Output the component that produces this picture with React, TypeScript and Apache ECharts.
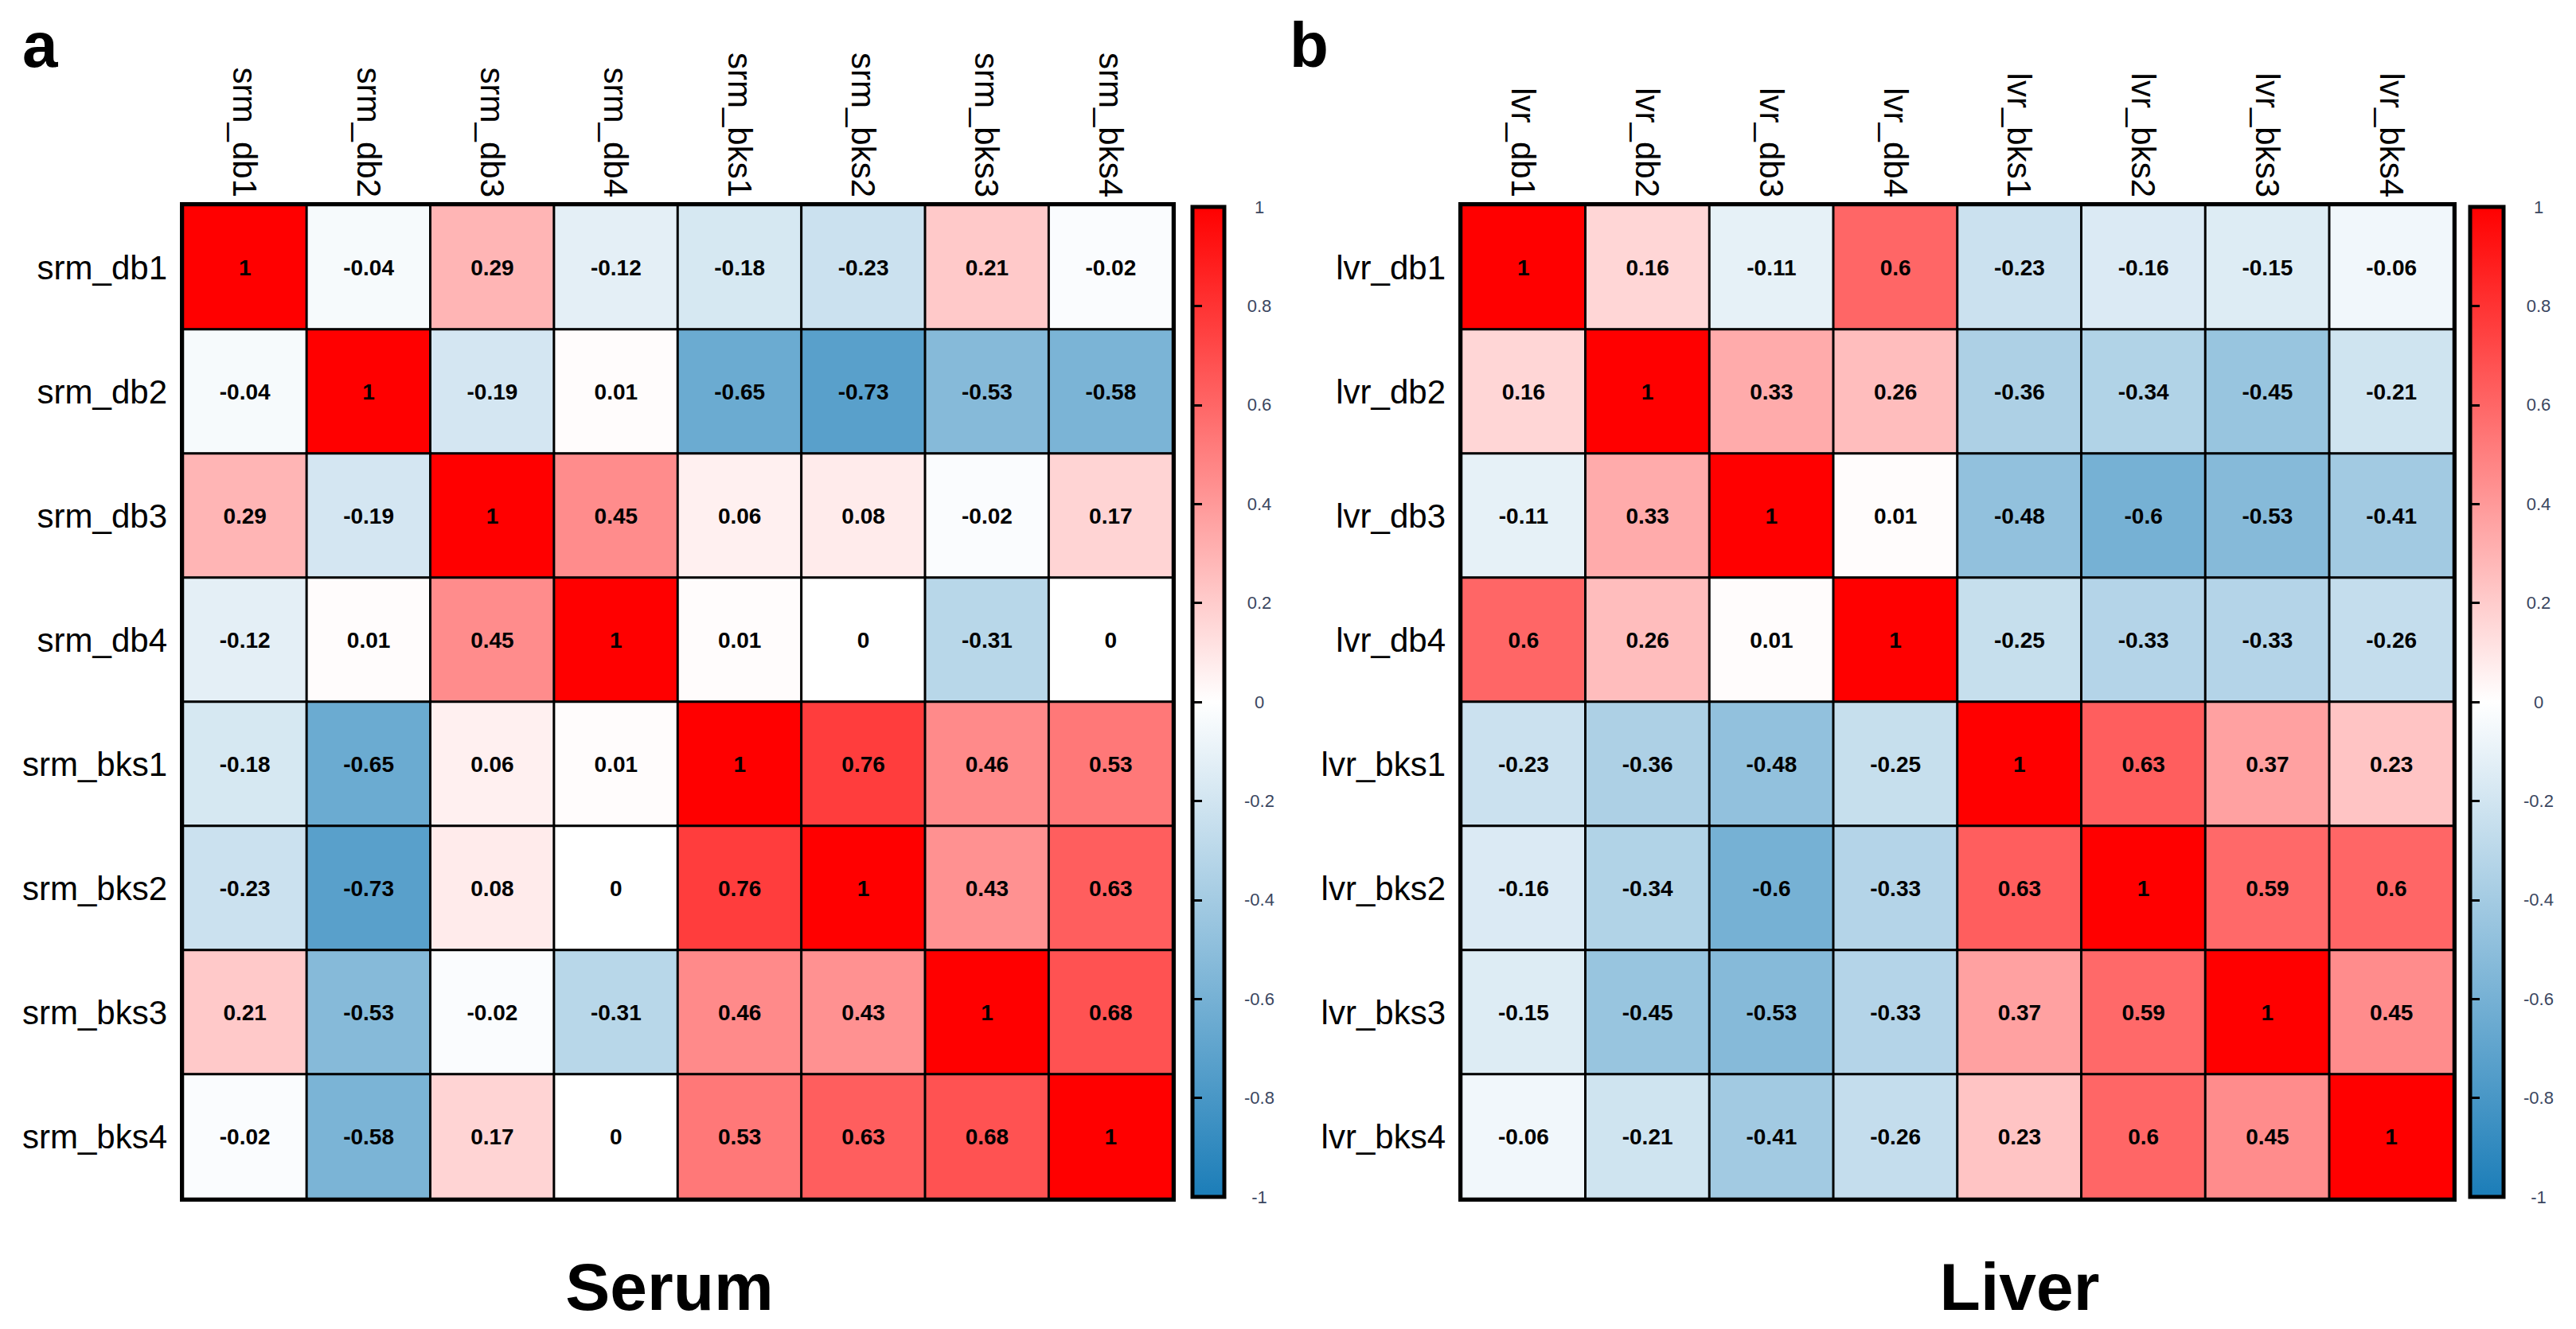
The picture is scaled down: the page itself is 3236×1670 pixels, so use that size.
import React, { useEffect, useRef } from 'react';
import * as echarts from 'echarts';

const serumLabels = ['srm_db1', 'srm_db2', 'srm_db3', 'srm_db4', 'srm_bks1', 'srm_bks2', 'srm_bks3', 'srm_bks4'];
const liverLabels = ['lvr_db1', 'lvr_db2', 'lvr_db3', 'lvr_db4', 'lvr_bks1', 'lvr_bks2', 'lvr_bks3', 'lvr_bks4'];

const serumValues = [
  [1, -0.04, 0.29, -0.12, -0.18, -0.23, 0.21, -0.02],
  [-0.04, 1, -0.19, 0.01, -0.65, -0.73, -0.53, -0.58],
  [0.29, -0.19, 1, 0.45, 0.06, 0.08, -0.02, 0.17],
  [-0.12, 0.01, 0.45, 1, 0.01, 0, -0.31, 0],
  [-0.18, -0.65, 0.06, 0.01, 1, 0.76, 0.46, 0.53],
  [-0.23, -0.73, 0.08, 0, 0.76, 1, 0.43, 0.63],
  [0.21, -0.53, -0.02, -0.31, 0.46, 0.43, 1, 0.68],
  [-0.02, -0.58, 0.17, 0, 0.53, 0.63, 0.68, 1],
];

const liverValues = [
  [1, 0.16, -0.11, 0.6, -0.23, -0.16, -0.15, -0.06],
  [0.16, 1, 0.33, 0.26, -0.36, -0.34, -0.45, -0.21],
  [-0.11, 0.33, 1, 0.01, -0.48, -0.6, -0.53, -0.41],
  [0.6, 0.26, 0.01, 1, -0.25, -0.33, -0.33, -0.26],
  [-0.23, -0.36, -0.48, -0.25, 1, 0.63, 0.37, 0.23],
  [-0.16, -0.34, -0.6, -0.33, 0.63, 1, 0.59, 0.6],
  [-0.15, -0.45, -0.53, -0.33, 0.37, 0.59, 1, 0.45],
  [-0.06, -0.21, -0.41, -0.26, 0.23, 0.6, 0.45, 1],
];

const scaleMin = -1;
const scaleMax = 1;
const scaleStep = 0.2;
const scaleColors = ['#1b7db8', '#ffffff', '#ff0000'];

const panelLetters = ['a', 'b'];
const panelTitles = ['Serum', 'Liver'];

const FONT = '"Liberation Sans", Arial, Helvetica, sans-serif';

function toCells(m: number[][]) {
  const out: number[][] = [];
  m.forEach((row, i) => row.forEach((v, j) => out.push([j, i, v])));
  return out;
}

function heatAxes(labels: string[], gridIndex: number) {
  const x = {
    type: 'category',
    gridIndex,
    data: labels,
    position: 'top',
    axisLine: { show: false },
    axisTick: { show: false },
    splitLine: { show: false },
    axisLabel: { rotate: 90, fontSize: 42, color: '#000', margin: 10, fontFamily: FONT },
  };
  const y = {
    type: 'category',
    gridIndex,
    data: labels,
    inverse: true,
    axisLine: { show: false },
    axisTick: { show: false },
    splitLine: { show: false },
    axisLabel: { fontSize: 42, color: '#000', margin: 20, fontFamily: FONT },
  };
  return { x, y };
}

function barAxes(gridIndex: number) {
  const x = { type: 'value', gridIndex, min: 0, max: 1, show: false };
  const y = {
    type: 'value',
    gridIndex,
    min: scaleMin,
    max: scaleMax,
    interval: scaleStep,
    position: 'right',
    axisLine: { show: false },
    splitLine: { show: false },
    axisTick: { show: true, length: 12, lineStyle: { color: '#000', width: 3 } },
    axisLabel: {
      fontSize: 22,
      color: '#3a4660',
      align: 'center',
      margin: 44,
      fontFamily: FONT,
      formatter: (v: number) => String(Math.round(v * 10) / 10),
    },
  };
  return { x, y };
}

export default function App() {
  const ref = useRef<HTMLDivElement>(null);
  useEffect(() => {
    document.body.style.margin = '0';
    if (!ref.current) return;
    const chart = echarts.init(ref.current, null, { renderer: 'svg' });
    const a = heatAxes(serumLabels, 0);
    const b = heatAxes(liverLabels, 1);
    const ca = barAxes(2);
    const cb = barAxes(3);
    const gradient = () =>
      new echarts.graphic.LinearGradient(0, 0, 0, 1, [
        { offset: 0, color: scaleColors[2] },
        { offset: 0.5, color: scaleColors[1] },
        { offset: 1, color: scaleColors[0] },
      ]);
    const heatSeries = (data: number[][], idx: number) => ({
      type: 'heatmap',
      xAxisIndex: idx,
      yAxisIndex: idx,
      data: toCells(data as any),
      itemStyle: { borderColor: '#000', borderWidth: 3 },
      label: {
        show: true,
        fontSize: 28,
        fontWeight: 'bold',
        color: '#000',
        fontFamily: FONT,
        formatter: (p: any) => String(p.value[2]),
      },
      emphasis: { disabled: true },
    });
    const option: any = {
      animation: false,
      backgroundColor: '#fff',
      textStyle: { fontFamily: FONT },
      grid: [
        { left: 230, top: 258, width: 1243, height: 1248, show: true, borderColor: '#000', borderWidth: 8, backgroundColor: 'transparent' },
        { left: 1836, top: 258, width: 1246, height: 1248, show: true, borderColor: '#000', borderWidth: 8, backgroundColor: 'transparent' },
        { left: 1498, top: 260, width: 40, height: 1244, show: true, borderColor: '#000', borderWidth: 5, backgroundColor: gradient() },
        { left: 3103, top: 260, width: 42, height: 1244, show: true, borderColor: '#000', borderWidth: 5, backgroundColor: gradient() },
      ],
      xAxis: [a.x, b.x, ca.x, cb.x],
      yAxis: [a.y, b.y, ca.y, cb.y],
      visualMap: {
        type: 'continuous',
        min: scaleMin,
        max: scaleMax,
        show: false,
        dimension: 2,
        seriesIndex: [0, 1],
        inRange: { color: scaleColors },
      },
      series: [
        heatSeries(serumValues, 0),
        heatSeries(liverValues, 1),
        { type: 'scatter', xAxisIndex: 2, yAxisIndex: 2, data: [], silent: true },
        { type: 'scatter', xAxisIndex: 3, yAxisIndex: 3, data: [], silent: true },
      ],
      graphic: [
        { type: 'text', left: 28, top: 16, style: { text: panelLetters[0], font: `bold 80px ${FONT}`, fill: '#000' } },
        { type: 'text', left: 1620, top: 16, style: { text: panelLetters[1], font: `bold 80px ${FONT}`, fill: '#000' } },
        { type: 'text', x: 841, y: 1617, style: { text: panelTitles[0], font: `bold 84px ${FONT}`, fill: '#000', textAlign: 'center', textVerticalAlign: 'middle' } },
        { type: 'text', x: 2537, y: 1617, style: { text: panelTitles[1], font: `bold 84px ${FONT}`, fill: '#000', textAlign: 'center', textVerticalAlign: 'middle' } },
      ],
    };
    chart.setOption(option);
    return () => chart.dispose();
  }, []);
  return <div ref={ref} style={{ width: 3236, height: 1670 }} />;
}
